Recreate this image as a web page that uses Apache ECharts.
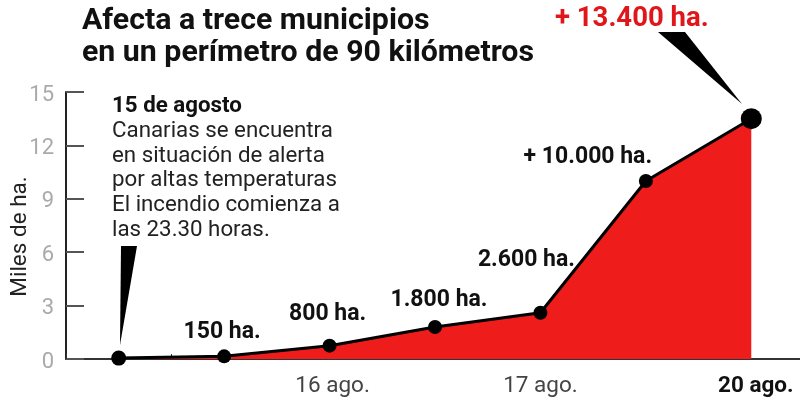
<!DOCTYPE html>
<html><head><meta charset="utf-8">
<style>html,body{margin:0;padding:0;background:#fff}#c{width:800px;height:407px}</style>
<script src="https://cdn.jsdelivr.net/npm/echarts@6/dist/echarts.min.js"></script>
</head><body><div id="c"></div>
<script>
const categories = ['15 ago. a', '15 ago. b', '16 ago.', '16 ago. b', '17 ago.', '17 ago. b', '20 ago.'];
const tickLabels = {2: '16 ago.', 4: '17 ago.', 6: '20 ago.'};
const hectares = [0.05, 0.15, 0.75, 1.8, 2.6, 10, 13.5];
const pointLabels = ['', '150 ha.', '800 ha.', '1.800 ha.', '2.600 ha.', '+ 10.000 ha.', ''];
const labelOffsets = [[0,0],[-2,-1],[-2,-8],[4,-3],[-14,-29],[-58,0],[0,0]];
const yTicks = [0, 3, 6, 9, 12, 15];

const chart = echarts.init(document.getElementById('c'), null, {renderer: 'canvas'});
const font = 'Roboto';
chart.setOption({
  backgroundColor: '#fff',
  animation: false,
  grid: {left: 66, right: -4, top: 92, bottom: 48, containLabel: false, outerBoundsMode: 'none'},
  xAxis: {
    type: 'category', data: categories, boundaryGap: true,
    axisLine: {show: true, onZero: false, lineStyle: {color: '#333', width: 2}},
    axisTick: {show: true, inside: true, length: 5, alignWithLabel: false, interval: 0, lineStyle: {color: '#333', width: 1}},
    axisLabel: {
      show: true, interval: 0, margin: 16, fontFamily: font, hideOverlap: false,
      fontSize: 22.5, color: '#444',
      formatter: (v, i) => i === 6 ? '{b|' + tickLabels[i] + '}' : (i === 2 ? '{a|' + tickLabels[i] + '}' : (tickLabels[i] || '')),
      rich: {
        a: {fontFamily: font, fontSize: 22.5, color: '#444', padding: [0, 0, 0, 6]},
        b: {fontFamily: font, fontSize: 22.5, fontWeight: 700, color: '#111', padding: [0, 0, 0, 9]}
      }
    },
    splitLine: {show: false}
  },
  yAxis: {
    type: 'value', min: 0, max: 15, interval: 3,
    name: 'Miles de ha.', nameLocation: 'middle', nameGap: 34, nameMoveOverlap: false,
    nameTextStyle: {fontFamily: font, fontSize: 22.5, color: '#222', padding: [0, 22, 0, 0]},
    axisLine: {show: true, onZero: false, lineStyle: {color: '#222', width: 2}},
    axisTick: {show: true, inside: true, length: 18, lineStyle: {color: '#555', width: 2}},
    axisLabel: {margin: 12, fontFamily: font, fontSize: 22, color: '#aaa', verticalAlign: 'top', lineHeight: 6,
      formatter: v => yTicks.includes(v) ? String(v) : ''},
    splitLine: {show: false}
  },
  series: [{
    type: 'line', data: hectares.map((v, i) => ({
      value: v,
      symbolSize: i === 6 ? 21 : (i === 0 ? 15 : 14),
      label: {show: !!pointLabels[i], formatter: pointLabels[i], offset: labelOffsets[i]}
    })),
    symbol: 'circle', showSymbol: true, showAllSymbol: true, smooth: false,
    lineStyle: {color: '#000', width: 3},
    itemStyle: {color: '#000', borderWidth: 0},
    areaStyle: {color: '#ee1c1a', opacity: 1},
    label: {position: 'top', fontFamily: font, fontSize: 23, fontWeight: 700, color: '#111'},
    z: 3
  }],
  graphic: [
    {type: 'text', left: 82, top: 5, style: {
      text: 'Afecta a trece municipios\nen un perímetro de 90 kilómetros',
      fontFamily: font, fontSize: 30.3, fontWeight: 700, lineHeight: 32, fill: '#111'}},
    {type: 'text', left: 112, top: 94, style: {
      text: '{b|15 de agosto}\nCanarias se encuentra\nen situación de alerta\npor altas temperaturas\nEl incendio comienza a\nlas 23.30 horas.',
      fontFamily: font, fontSize: 22.3, lineHeight: 24.8, fill: '#222',
      rich: {b: {fontFamily: font, fontSize: 22.3, fontWeight: 700, fill: '#111', lineHeight: 24.8}}}},
    {type: 'text', left: 555, top: 5, style: {
      text: '+ 13.400 ha.', fontFamily: font, fontSize: 27.5, fontWeight: 700, fill: '#e0161b'}},
    {type: 'polygon', shape: {points: [[121, 246], [137, 246], [120, 345]]}, style: {fill: '#000'}},
    {type: 'polygon', shape: {points: [[658, 32], [685, 32], [742, 104]]}, style: {fill: '#000'}}
  ]
});
</script></body></html>
